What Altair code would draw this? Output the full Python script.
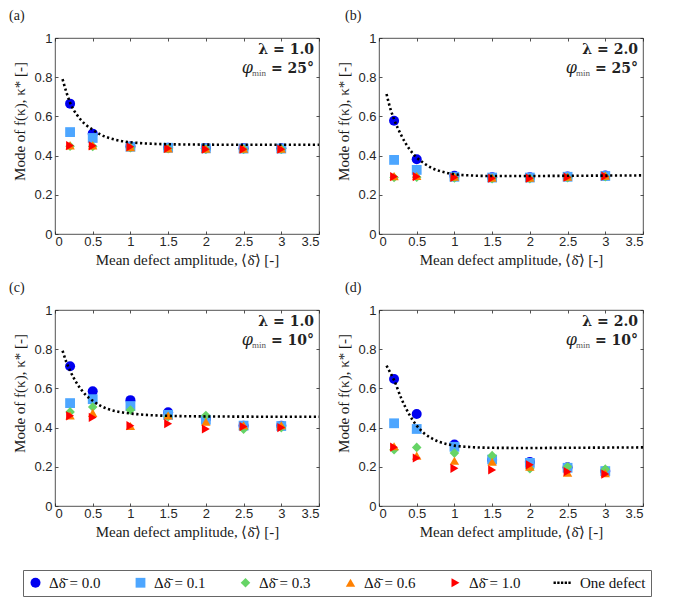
import altair as alt
import pandas as pd

# ---------------- data ----------------
AMP = [0.2, 0.5, 1.0, 1.5, 2.0, 2.5, 3.0]
SERIES = ["\u0394\u03b4\u0304 = 0.0", "\u0394\u03b4\u0304 = 0.1", "\u0394\u03b4\u0304 = 0.3",
          "\u0394\u03b4\u0304 = 0.6", "\u0394\u03b4\u0304 = 1.0", "One defect"]

# panel (a)  lambda=1.0, phi_min=25
a_00 = [0.665, 0.512, 0.447, 0.440, 0.437, 0.437, 0.437]
a_01 = [0.520, 0.490, 0.445, 0.440, 0.437, 0.436, 0.436]
a_03 = [0.448, 0.447, 0.440, 0.435, 0.432, 0.432, 0.432]
a_06 = [0.452, 0.452, 0.443, 0.437, 0.435, 0.435, 0.435]
a_10 = [0.451, 0.450, 0.445, 0.437, 0.433, 0.433, 0.433]
# panel (b)  lambda=2.0, phi_min=25
b_00 = [0.578, 0.381, 0.297, 0.290, 0.290, 0.294, 0.298]
b_01 = [0.378, 0.327, 0.292, 0.288, 0.288, 0.292, 0.296]
b_03 = [0.288, 0.290, 0.286, 0.282, 0.282, 0.287, 0.292]
b_06 = [0.295, 0.296, 0.292, 0.287, 0.287, 0.292, 0.298]
b_10 = [0.293, 0.293, 0.289, 0.285, 0.285, 0.290, 0.295]
# panel (c)  lambda=1.0, phi_min=10
c_00 = [0.713, 0.585, 0.540, 0.478, 0.445, 0.410, 0.410]
c_01 = [0.525, 0.545, 0.510, 0.465, 0.440, 0.410, 0.408]
c_03 = [0.480, 0.505, 0.490, 0.455, 0.462, 0.392, 0.400]
c_06 = [0.462, 0.475, 0.408, 0.462, 0.430, 0.412, 0.412]
c_10 = [0.460, 0.452, 0.410, 0.420, 0.393, 0.405, 0.400]
# panel (d)  lambda=2.0, phi_min=10
d_00 = [0.648, 0.469, 0.314, 0.235, 0.225, 0.198, 0.178]
d_01 = [0.422, 0.393, 0.302, 0.237, 0.220, 0.195, 0.178]
d_03 = [0.287, 0.299, 0.270, 0.257, 0.190, 0.200, 0.188]
d_06 = [0.305, 0.257, 0.231, 0.226, 0.200, 0.170, 0.168]
d_10 = [0.300, 0.245, 0.192, 0.184, 0.210, 0.175, 0.163]

# one-defect curves
CURVE_X = [0.1, 0.15, 0.2, 0.3, 0.4, 0.5, 0.6, 0.7, 0.8, 0.9, 1.0, 1.2, 1.5, 2.0, 2.5, 3.0, 3.5]
a_curve = [0.790, 0.725, 0.670, 0.603, 0.560, 0.532, 0.508, 0.492, 0.481, 0.473, 0.468, 0.462, 0.458, 0.456, 0.455, 0.455, 0.455]
b_curve = [0.714, 0.640, 0.585, 0.500, 0.435, 0.390, 0.360, 0.337, 0.322, 0.312, 0.305, 0.299, 0.296, 0.296, 0.297, 0.298, 0.299]
c_curve = [0.792, 0.735, 0.690, 0.620, 0.570, 0.537, 0.512, 0.495, 0.484, 0.477, 0.472, 0.465, 0.460, 0.457, 0.456, 0.455, 0.455]
d_curve = [0.716, 0.680, 0.642, 0.545, 0.468, 0.410, 0.370, 0.345, 0.327, 0.316, 0.308, 0.301, 0.297, 0.296, 0.297, 0.298, 0.299]

X_TICKS = [0, 0.5, 1, 1.5, 2, 2.5, 3, 3.5]
Y_TICKS = [0, 0.2, 0.4, 0.6, 0.8, 1]

COLORS = ["#0000f0", "#4da6ff", "#66d466", "#ff8000", "#ff0000", "#000000"]
DOTS = ("M-2.9,-0.26h0.52v0.52h-0.52Z M-2.07,-0.26h0.52v0.52h-0.52Z "
        "M-1.24,-0.26h0.52v0.52h-0.52Z M-0.41,-0.26h0.52v0.52h-0.52Z "
        "M0.42,-0.26h0.52v0.52h-0.52Z")
SHAPES = ["circle", "square", "diamond", "triangle-up", "triangle-right", DOTS]
SIZES = [100, 80, 115, 175, 175, 60]

W, H = 264, 196
SERIF = "Liberation Serif"
SANS = "Liberation Sans"
INK = "#262626"

xscale = alt.Scale(domain=[0, 3.5], nice=False, zero=False)
yscale = alt.Scale(domain=[0, 1], nice=False, zero=False)

legend = alt.Legend(title=None, orient="none", legendX=-32, legendY=532,
                    direction="horizontal", columns=6, columnPadding=32,
                    labelFont=SERIF, labelFontSize=15, labelColor="#111",
                    symbolSize=60, labelOffset=6, strokeColor="#666",
                    padding=5, symbolStrokeWidth=0, fillColor="white")

x_bottom = alt.Axis(values=X_TICKS, format="~g", tickSize=3, offset=-3, labelPadding=1,
                    title="Mean defect amplitude, \u27e8\u03b4\u0304\u27e9 [-]", titlePadding=4)
x_top = alt.Axis(values=X_TICKS, orient="top", labels=False, tickSize=3, offset=-3, title=None)
y_left = alt.Axis(values=Y_TICKS, format="~g", tickSize=3, offset=-3, labelPadding=3,
                  title="Mode of  f(\u03ba),  \u03ba*  [-]", titlePadding=6, titleY=83)
y_right = alt.Axis(values=Y_TICKS, orient="right", labels=False, tickSize=3, offset=-3, title=None)


def panel(tag, dx, vals, curve, lam, phi):
    rows = []
    for s, v in zip(SERIES[:5], vals):
        for xv, yv in zip(AMP, v):
            rows.append({"x": xv, "y": yv, "series": s})
    df = pd.DataFrame(rows)
    cdf = pd.DataFrame({"x": CURVE_X, "y": curve})

    pts = alt.Chart(df).mark_point(filled=True, opacity=1, strokeWidth=0).encode(
        x=alt.X("x:Q", scale=xscale, axis=x_bottom),
        y=alt.Y("y:Q", scale=yscale, axis=y_left),
        color=alt.Color("series:N", scale=alt.Scale(domain=SERIES, range=COLORS), legend=legend),
        shape=alt.Shape("series:N", scale=alt.Scale(domain=SERIES, range=SHAPES), legend=legend),
        size=alt.Size("series:N", scale=alt.Scale(domain=SERIES, range=SIZES), legend=None),
    )
    line = alt.Chart(cdf).mark_line(color="black", strokeDash=[2.2, 2.6], strokeWidth=2.6,
                                    interpolate="monotone").encode(
        x=alt.X("x:Q", scale=xscale, axis=x_top),
        y=alt.Y("y:Q", scale=yscale, axis=y_right),
    )
    t1 = alt.Chart(pd.DataFrame({"t": ["\u03bb = " + lam]})).mark_text(
        align="right", baseline="middle", font="DejaVu Serif", fontWeight="bold",
        fontSize=14, color="#222").encode(text="t:N", x=alt.value(W - 5), y=alt.value(12))
    t2 = alt.Chart(pd.DataFrame({"t": ["= " + phi + "\u00b0"]})).mark_text(
        align="right", baseline="middle", font="DejaVu Serif", fontWeight="bold",
        fontSize=14, color="#222").encode(text="t:N", x=alt.value(W - 5), y=alt.value(31))
    t3 = alt.Chart(pd.DataFrame({"t": ["min"]})).mark_text(
        align="right", baseline="middle", font=SERIF, fontSize=9, color="#555").encode(
        text="t:N", x=alt.value(W - 53), y=alt.value(35))
    t4 = alt.Chart(pd.DataFrame({"t": ["\u03c6"]})).mark_text(
        align="right", baseline="middle", font="DejaVu Serif", fontStyle="italic",
        fontSize=16, color="#222").encode(text="t:N", x=alt.value(W - 66), y=alt.value(30))

    return alt.layer(pts, line, t1, t2, t3, t4).resolve_axis(
        x="independent", y="independent").properties(
        width=W, height=H,
        title=alt.TitleParams(tag, anchor="start", frame="group", dx=dx, offset=9,
                              font=SERIF, fontSize=14, fontWeight="normal", color="#222"))


pa = panel("(a)", -46, [a_00, a_01, a_03, a_06, a_10], a_curve, "1.0", "25")
pb = panel("(b)", -34, [b_00, b_01, b_03, b_06, b_10], b_curve, "2.0", "25")
pc = panel("(c)", -46, [c_00, c_01, c_03, c_06, c_10], c_curve, "1.0", "10")
pd_ = panel("(d)", -34, [d_00, d_01, d_03, d_06, d_10], d_curve, "2.0", "10")

chart = alt.vconcat(
    alt.hconcat(pa, pb, spacing=11),
    alt.hconcat(pc, pd_, spacing=11),
    spacing=12,
).properties(padding={"left": 0, "top": 0, "right": 3, "bottom": 3}).configure_view(
    stroke=INK, strokeWidth=0.8
).configure_axis(
    grid=False, domain=False, labelFont=SANS, labelFontSize=13, labelColor=INK,
    tickColor=INK, tickWidth=0.8, titleFont=SERIF, titleFontSize=15,
    titleFontWeight="normal", titleColor="#1a1a1a"
)

chart.save("out.html", embed_options={"renderer": "svg", "actions": False})
